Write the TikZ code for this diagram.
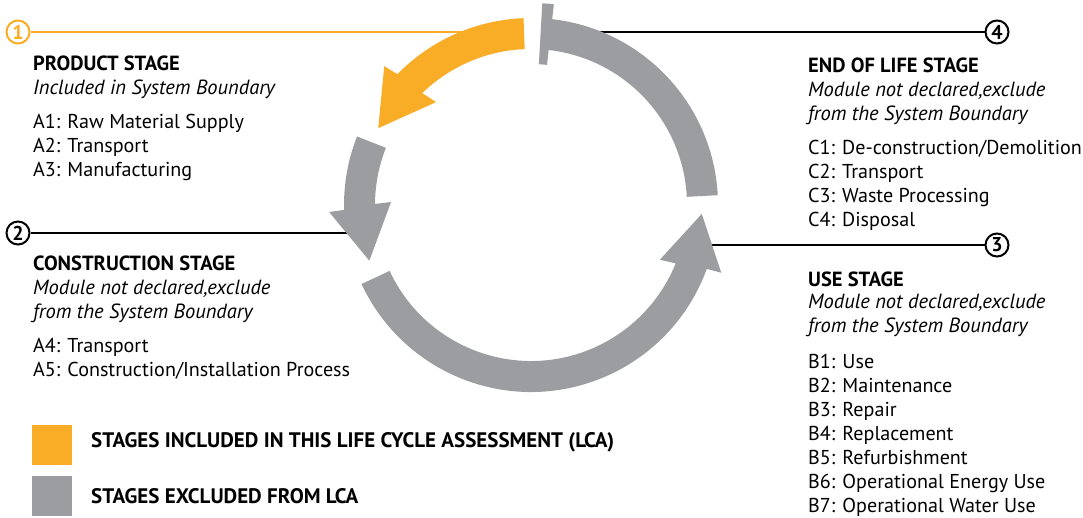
\documentclass[tikz,border=0pt]{standalone}
\usepackage{fontspec}
\setmainfont{PT Sans}
\definecolor{lca_orange}{RGB}{249,173,38}
\definecolor{lca_grey}{RGB}{156,157,161}
\tikzstyle{num}=[circle,draw=black,line width=2pt,inner sep=0pt,
  minimum size=23pt,font=\bfseries\fontsize{20}{20}\selectfont]
\tikzstyle{head}=[anchor=base west,inner sep=0pt,font=\bfseries\fontsize{20.5}{24}\selectfont]
\tikzstyle{note}=[anchor=base west,inner sep=0pt,align=left,font=\itshape\fontsize{20.5}{24}\selectfont]
\tikzstyle{item}=[anchor=base west,inner sep=0pt,align=left,font=\fontsize{20.1}{24}\selectfont]
\tikzstyle{key}=[minimum size=40pt,inner sep=0pt]
\tikzstyle{keytext}=[anchor=base west,inner sep=0pt,font=\bfseries\fontsize{21}{24}\selectfont]
\tikzstyle{leader}=[line width=1.2pt]

\begin{document}
\begin{tikzpicture}[x=1pt,y=1pt]
	\useasboundingbox (0,0) rectangle (1083,518);
	\coordinate (c) at (531,313);
	\node [style=num, draw=lca_orange, text=lca_orange] (n1) at (18,486) {1};
	\node [style=num] (n2) at (18,285) {2};
	\node [style=num] (n3) at (997,273) {3};
	\node [style=num] (n4) at (997,486) {4};
	\coordinate (e1) at (480,486);
	\coordinate (e2) at (365,285);
	\coordinate (e3) at (700,273);
	\coordinate (e4) at (580,486);
	\draw [style=leader, draw=lca_orange] (n1) to (e1);
	\draw [style=leader] (n2) to (e2);
	\draw [style=leader] (e3) to (n3);
	\draw [style=leader] (e4) to (n4);
	\begin{scope}[shift={(c)}]
		\fill [lca_orange] (92.3:156) arc [start angle=92.3, end angle=134.2, radius=156]
			-- (132.7:140) -- (153.3:171) -- (136.6:202) -- (135.6:187)
			arc [start angle=135.6, end angle=92.3, radius=187] -- cycle;
		\fill [lca_grey] (158.5:156) arc [start angle=158.5, end angle=179.6, radius=156]
			-- (178.8:140) -- (199:171) -- (182:202) -- (181.5:187)
			arc [start angle=181.5, end angle=158.5, radius=187] -- cycle;
		\fill [lca_grey] (205:156) arc [start angle=205, end angle=338, radius=156]
			-- (337:140) -- (357:171) -- (340.4:202) -- (340:187)
			arc [start angle=340, end angle=205, radius=187] -- cycle;
		\fill [lca_grey] (3:156) arc [start angle=3, end angle=85, radius=156]
			-- (85:187) arc [start angle=85, end angle=3, radius=187] -- cycle;
		\fill [lca_grey] (83.5:141) arc [start angle=83.5, end angle=86.8, radius=141]
			-- (86.8:202) arc [start angle=86.8, end angle=83.5, radius=202] -- cycle;
	\end{scope}
	\node [style=head] (h1) at (33,447) {PRODUCT STAGE};
	\node [style=note] (s1) at (33,423) {Included in System Boundary};
	\node [style=item] (l1) at (33,341) {A1: Raw Material Supply\\A2: Transport\\A3: Manufacturing};
	\node [style=head] (h2) at (33,247) {CONSTRUCTION STAGE};
	\node [style=note] (s2) at (33,199) {Module not declared,exclude\\from the System Boundary};
	\node [style=item] (l2) at (33,141) {A4: Transport\\A5: Construction/Installation Process};
	\node [style=head] (h4) at (808,445) {END OF LIFE STAGE};
	\node [style=note] (s4) at (808,397) {Module not declared,exclude\\from the System Boundary};
	\node [style=item] (l4) at (808,291) {C1: De-construction/Demolition\\C2: Transport\\C3: Waste Processing\\C4: Disposal};
	\node [style=head] (h3) at (808,231) {USE STAGE};
	\node [style=note] (s3) at (808,185) {Module not declared,exclude\\from the System Boundary};
	\node [style=item] (l3) at (808,5) {B1: Use\\B2: Maintenance\\B3: Repair\\B4: Replacement\\B5: Refurbishment\\B6: Operational Energy Use\\B7: Operational Water Use};
	\node [style=key, fill=lca_orange] (k1) at (52,73) {};
	\node [style=key, fill=lca_grey] (k2) at (52,22) {};
	\node [style=keytext] (t1) at (91,70) {STAGES INCLUDED IN THIS LIFE CYCLE ASSESSMENT (LCA)};
	\node [style=keytext] (t2) at (91,14) {STAGES EXCLUDED FROM LCA};
\end{tikzpicture}
\end{document}
